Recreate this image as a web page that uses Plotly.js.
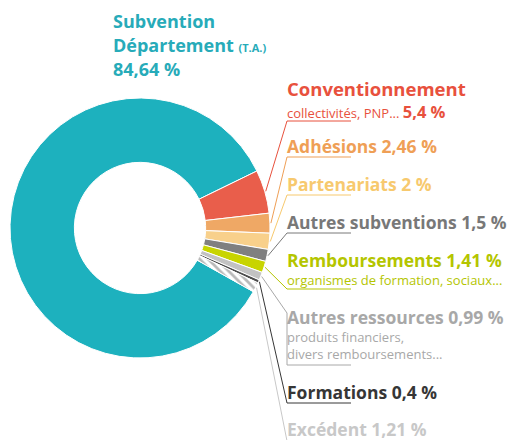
<!DOCTYPE html>
<html>
<head>
<meta charset="utf-8">
<script src="https://cdn.plot.ly/plotly-3.0.1.min.js"></script>
<style>
  html, body { margin: 0; padding: 0; background: #fff; }
  #chart { width: 518px; height: 440px; }
</style>
</head>
<body>
<div id="chart"></div>
<script>
'use strict';

// Data
const labels = ['Subvention Département', 'Conventionnement', 'Adhésions', 'Partenariats',
  'Autres subventions', 'Remboursements', 'Autres ressources', 'Formations', 'Excédent'];
const values = [84.64, 5.4, 2.46, 2, 1.5, 1.41, 0.99, 0.4, 1.21];
const details = ['(T.A.)', 'collectivités, PNP...', '', '', '', 'organismes de formation, sociaux...',
  'produits financiers,|divers remboursements...', '', ''];

const sliceColors = ['#1db1be', '#e95e4b', '#efa865', '#f8d08b', '#808080', '#c8d400',
  '#c2c2c2', '#4d4d4d', '#b9b9b9'];
const textColors = ['#27abb9', '#e8513d', '#ef9f56', '#f7c96e', '#787878', '#b4c500',
  '#a8a8a8', '#363636', '#c8c8c8'];

const W = 518, H = 440;
const FONT = '"Open Sans", Lato, sans-serif';

// pie geometry (pixels)
const cx = 140, cy = 228, R = 130;
const startAngle = 64; // where the 2nd slice begins, degrees clockwise from 12 o'clock

const total = values.reduce((a, b) => a + b, 0);
const rotation = startAngle - values[0] / total * 360 + 360;

const px = x => x / W;
const py = y => 1 - y / H;
const pct = v => String(v).replace('.', ',') + ' %';

// mid angle of each slice (clockwise from top)
const midAngles = [];
let acc = rotation;
values.forEach(v => {
  const span = v / total * 360;
  midAngles.push(acc + span / 2);
  acc += span;
});

const trace = {
  type: 'pie',
  labels: labels,
  values: values,
  sort: false,
  direction: 'clockwise',
  rotation: rotation,
  hole: 0.505,
  textinfo: 'none',
  hoverinfo: 'label+percent',
  marker: {
    colors: sliceColors,
    line: { color: '#ffffff', width: 1 },
    pattern: {
      shape: values.map((v, i) => i === values.length - 1 ? '\\' : ''),
      bgcolor: '#ffffff',
      size: 6,
      solidity: 0.45
    }
  },
  domain: { x: [px(cx - R), px(cx + R)], y: [py(cy + R), py(cy - R)] }
};

// label layout: baseline of first line, underline y, optional knee y
const labelX = 286;
const lineEnd = 351;
const firstBaseline = [27, 94, 152, 190, 228, 266, 323, 398, 435];
const underlineY = [null, 121, 157, 195, 233, 289, 365, 403, 441];
const kneeY = [null, null, null, null, null, null, 313, null, null];
const MAIN = 17.5, SUB = 13;

const annotations = [];
const shapes = [];

function addLine(x, baseline, html, size, color) {
  annotations.push({
    xref: 'paper', yref: 'paper',
    x: px(x), y: py(baseline - size * 0.32),
    xanchor: 'left', yanchor: 'middle',
    showarrow: false,
    text: html,
    font: { family: FONT, size: size, color: color },
    borderpad: 0
  });
}

// main slice: label on top
addLine(112, firstBaseline[0], '<b>Subvention</b>', 18, textColors[0]);
addLine(112, firstBaseline[0] + 24,
  '<b>Département</b> <b><span style="font-size:11px">' + details[0] + '</span></b>', 18, textColors[0]);
addLine(112, firstBaseline[0] + 48, '<b>' + pct(values[0]) + '</b>', 18, textColors[0]);

for (let i = 1; i < labels.length; i++) {
  const c = textColors[i];
  const b = firstBaseline[i];
  if (i === 1) {
    addLine(labelX, b, '<b>' + labels[i] + '</b>', 18.5, c);
    addLine(labelX, b + 22, details[i] + ' <b><span style="font-size:16.5px">' + pct(values[i]) + '</span></b>', SUB, c);
  } else {
    addLine(labelX, b, '<b>' + labels[i] + ' ' + pct(values[i]) + '</b>', MAIN, c);
    if (details[i]) {
      details[i].split('|').forEach((t, k) => {
        addLine(labelX, b + 18 + k * 17.5, t, SUB, c);
      });
    }
  }

  // leader line from slice edge to underline
  const a = midAngles[i] * Math.PI / 180;
  const sx = cx + (R + 1) * Math.sin(a);
  const sy = cy - (R + 1) * Math.cos(a);
  let path = 'M' + px(sx) + ',' + py(sy);
  if (kneeY[i] !== null) path += ' L' + px(labelX + 1) + ',' + py(kneeY[i]);
  path += ' L' + px(labelX + 1) + ',' + py(underlineY[i]) + ' L' + px(lineEnd) + ',' + py(underlineY[i]);
  shapes.push({
    type: 'path', xref: 'paper', yref: 'paper',
    path: path,
    line: { color: textColors[i], width: 1 }
  });
}

const layout = {
  width: W,
  height: H,
  margin: { l: 0, r: 0, t: 0, b: 0 },
  showlegend: false,
  paper_bgcolor: '#ffffff',
  plot_bgcolor: '#ffffff',
  annotations: annotations,
  shapes: shapes
};

Plotly.newPlot('chart', [trace], layout, { displayModeBar: false, staticPlot: true });
</script>
</body>
</html>
